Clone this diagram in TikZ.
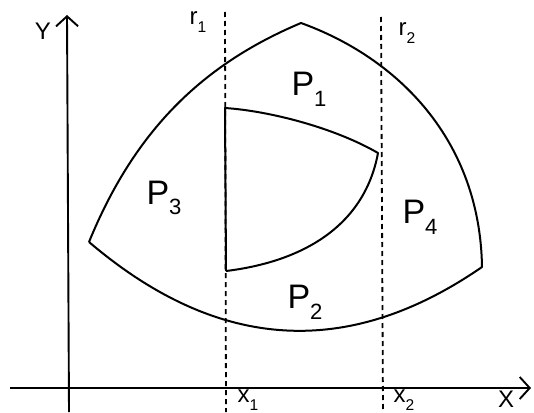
\documentclass[tikz,border=0pt]{standalone}
\usepackage{fontspec}
\setmainfont{Liberation Sans}
\usepackage{graphicx}
\usetikzlibrary{arrows.meta}
\tikzset{
  axis/.style  ={line width=1.9pt, -{Straight Barb[length=10pt,width=22pt,line width=1.9pt]}},
  guide/.style ={line width=1.8pt, dash pattern=on 5pt off 4pt},
  bound/.style ={line width=2pt, line join=round},
  reg/.style   ={inner sep=0pt, font=\fontsize{34}{34}\selectfont},
  axl/.style   ={inner sep=0pt, font=\fontsize{24}{24}\selectfont},
}
\newcommand{\lsub}[1]{\raisebox{-0.6ex}{\scalebox{0.65}{#1}}}

\begin{document}
\begin{tikzpicture}[x=1pt,y=-1pt]
\useasboundingbox (0,0) rectangle (534,412);
% axes
\draw[axis] (69,412) -- (67,15);
\draw[axis] (10,388) -- (531,388);
\node[axl] (ylab) at (43,31) {Y};
\node[axl] (xlab) at (506,399) {X};
% vertical lines r1, r2
\draw[guide] (225,12) -- (226,412);
\draw[guide] (381,17) -- (383,412);
\node[axl] (r1) at (198,22) {r\lsub{1}};
\node[axl] (r2) at (407,33) {r\lsub{2}};
\node[axl] (x1) at (248,400) {x\lsub{1}};
\node[axl] (x2) at (404,400) {x\lsub{2}};
% outer boundary
\coordinate (L) at (89,242);
\coordinate (T) at (301,23);
\coordinate (R) at (482,267);
\draw[bound] (L) .. controls (134,132) and (201,65) .. (T)
  .. controls (398,58) and (480,140) .. (R)
  .. controls (340,365) and (210,345) .. (L);
% inner boundary
\coordinate (A) at (225,108);
\coordinate (B) at (226,271);
\coordinate (C) at (378,153);
\draw[bound] (B) -- (A) .. controls (270,111) and (335,128) .. (C)
  .. controls (364,228) and (300,262) .. (B);
% region labels
\node[reg] (p1) at (309,89) {P\lsub{1}};
\node[reg] (p2) at (305,302) {P\lsub{2}};
\node[reg] (p3) at (164,198) {P\lsub{3}};
\node[reg] (p4) at (420,217) {P\lsub{4}};
\end{tikzpicture}
\end{document}
